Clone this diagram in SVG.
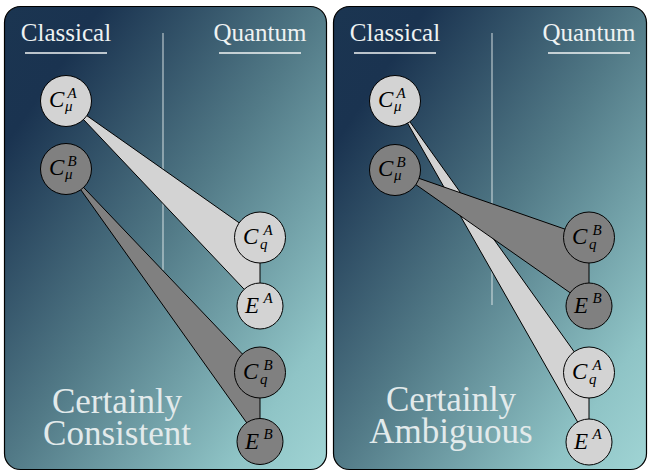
<svg xmlns="http://www.w3.org/2000/svg" width="650" height="472" viewBox="0 0 650 472">
<defs>
<linearGradient id="bg" x1="0" y1="0" x2="1" y2="1">
<stop offset="0" stop-color="#1b3551"/>
<stop offset="0.15" stop-color="#1a3350"/>
<stop offset="0.5" stop-color="#527a87"/>
<stop offset="0.85" stop-color="#8fc4c6"/>
<stop offset="1" stop-color="#a0d4d4"/>
</linearGradient>
<style>
.panel{fill:url(#bg);stroke:#000;stroke-width:1.2}
.ul{stroke:#f2f5f5;stroke-width:1.3}
.div{stroke:#e8eeee;stroke-opacity:0.75;stroke-width:1.2}
.light{fill:#d3d3d3;stroke:#000;stroke-width:1}
.dark{fill:#808080;stroke:#000;stroke-width:1}
</style>
</defs>
<g id="panel-left">
<rect class="panel" x="4.5" y="6.5" width="322" height="463" rx="16"/>
<text x="66" y="41" font-family="Liberation Serif" font-size="25" fill="#eef2f2" text-anchor="middle">Classical</text>
<line class="ul" x1="25" y1="53" x2="107" y2="53"/>
<text x="260" y="41" font-family="Liberation Serif" font-size="25" fill="#eef2f2" text-anchor="middle">Quantum</text>
<line class="ul" x1="219" y1="53" x2="301" y2="53"/>
<line class="div" x1="163" y1="33" x2="163" y2="270"/>
<text x="117" y="413" font-family="Liberation Serif" font-size="35" fill="#e2eaeb" text-anchor="middle">Certainly</text>
<text x="117" y="445" font-family="Liberation Serif" font-size="35" fill="#e2eaeb" text-anchor="middle">Consistent</text>
</g>
<g id="panel-right">
<rect class="panel" x="333.5" y="6.5" width="313" height="463" rx="16"/>
<text x="395" y="41" font-family="Liberation Serif" font-size="25" fill="#eef2f2" text-anchor="middle">Classical</text>
<line class="ul" x1="354" y1="53" x2="436" y2="53"/>
<text x="589" y="41" font-family="Liberation Serif" font-size="25" fill="#eef2f2" text-anchor="middle">Quantum</text>
<line class="ul" x1="548" y1="53" x2="630" y2="53"/>
<line class="div" x1="492" y1="33" x2="492" y2="305"/>
<text x="451" y="411" font-family="Liberation Serif" font-size="35" fill="#e2eaeb" text-anchor="middle">Certainly</text>
<text x="451" y="443" font-family="Liberation Serif" font-size="35" fill="#e2eaeb" text-anchor="middle">Ambiguous</text>
</g>
<g id="connectors">
<polygon class="light" points="66,101 260,237.5 260,306"/>
<polygon class="dark" points="66,169 260,372.5 260,441.5"/>
<polygon class="light" points="395,101 589,372.5 589,442"/>
<polygon class="dark" points="395,170 589,237.5 589,306"/>
</g>
<g id="L-CmuA">
<circle class="light" cx="66" cy="101" r="25.5"/>
<text x="49" y="107" font-family="Liberation Serif" font-style="italic" font-size="23">C</text>
<text x="67.5" y="98" font-family="Liberation Serif" font-style="italic" font-size="15">A</text>
<text x="65" y="111" font-family="Liberation Serif" font-style="italic" font-size="15">&#956;</text>
</g>
<g id="L-CmuB">
<circle class="dark" cx="66" cy="169" r="25.5"/>
<text x="49" y="175" font-family="Liberation Serif" font-style="italic" font-size="23">C</text>
<text x="67.5" y="166" font-family="Liberation Serif" font-style="italic" font-size="15">B</text>
<text x="65" y="179" font-family="Liberation Serif" font-style="italic" font-size="15">&#956;</text>
</g>
<g id="L-CqA">
<circle class="light" cx="260" cy="237.5" r="25.5"/>
<text x="243" y="243.5" font-family="Liberation Serif" font-style="italic" font-size="23">C</text>
<text x="263.5" y="234.5" font-family="Liberation Serif" font-style="italic" font-size="15">A</text>
<text x="260" y="249" font-family="Liberation Serif" font-style="italic" font-size="15">q</text>
</g>
<g id="L-EA">
<circle class="light" cx="260" cy="306" r="23"/>
<text x="245" y="313" font-family="Liberation Serif" font-style="italic" font-size="23">E</text>
<text x="263.5" y="303" font-family="Liberation Serif" font-style="italic" font-size="15">A</text>
</g>
<g id="L-CqB">
<circle class="dark" cx="260" cy="372.5" r="25.5"/>
<text x="243" y="378.5" font-family="Liberation Serif" font-style="italic" font-size="23">C</text>
<text x="263.5" y="369.5" font-family="Liberation Serif" font-style="italic" font-size="15">B</text>
<text x="260" y="384" font-family="Liberation Serif" font-style="italic" font-size="15">q</text>
</g>
<g id="L-EB">
<circle class="dark" cx="260" cy="441.5" r="23"/>
<text x="245" y="448.5" font-family="Liberation Serif" font-style="italic" font-size="23">E</text>
<text x="263.5" y="438.5" font-family="Liberation Serif" font-style="italic" font-size="15">B</text>
</g>
<g id="R-CmuA">
<circle class="light" cx="395" cy="101" r="25.5"/>
<text x="378" y="107" font-family="Liberation Serif" font-style="italic" font-size="23">C</text>
<text x="396.5" y="98" font-family="Liberation Serif" font-style="italic" font-size="15">A</text>
<text x="394" y="111" font-family="Liberation Serif" font-style="italic" font-size="15">&#956;</text>
</g>
<g id="R-CmuB">
<circle class="dark" cx="395" cy="170" r="25.5"/>
<text x="378" y="176" font-family="Liberation Serif" font-style="italic" font-size="23">C</text>
<text x="396.5" y="167" font-family="Liberation Serif" font-style="italic" font-size="15">B</text>
<text x="394" y="180" font-family="Liberation Serif" font-style="italic" font-size="15">&#956;</text>
</g>
<g id="R-CqB">
<circle class="dark" cx="589" cy="237.5" r="25.5"/>
<text x="572" y="243.5" font-family="Liberation Serif" font-style="italic" font-size="23">C</text>
<text x="592.5" y="234.5" font-family="Liberation Serif" font-style="italic" font-size="15">B</text>
<text x="589" y="249" font-family="Liberation Serif" font-style="italic" font-size="15">q</text>
</g>
<g id="R-EB">
<circle class="dark" cx="589" cy="306" r="23"/>
<text x="574" y="313" font-family="Liberation Serif" font-style="italic" font-size="23">E</text>
<text x="592.5" y="303" font-family="Liberation Serif" font-style="italic" font-size="15">B</text>
</g>
<g id="R-CqA">
<circle class="light" cx="589" cy="372.5" r="25.5"/>
<text x="572" y="378.5" font-family="Liberation Serif" font-style="italic" font-size="23">C</text>
<text x="592.5" y="369.5" font-family="Liberation Serif" font-style="italic" font-size="15">A</text>
<text x="589" y="384" font-family="Liberation Serif" font-style="italic" font-size="15">q</text>
</g>
<g id="R-EA">
<circle class="light" cx="589" cy="442" r="23"/>
<text x="574" y="449" font-family="Liberation Serif" font-style="italic" font-size="23">E</text>
<text x="592.5" y="439" font-family="Liberation Serif" font-style="italic" font-size="15">A</text>
</g>
</svg>
